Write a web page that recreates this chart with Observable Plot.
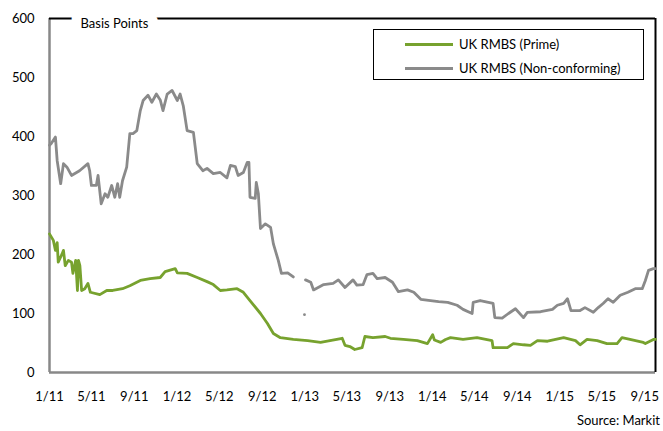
<!DOCTYPE html>
<html><head><meta charset="utf-8">
<script src="https://cdn.jsdelivr.net/npm/d3@7"></script>
<script src="https://cdn.jsdelivr.net/npm/@observablehq/plot@0.6"></script>
<style>
body{margin:0;background:#fff;font-family:Lato,"Open Sans",sans-serif;}
#wrap{position:relative;width:663px;height:431px;overflow:hidden;}
#legend{position:absolute;left:373px;top:29px;width:271px;height:51px;border:1px solid #000;box-sizing:border-box;font-size:13px;color:#000;background:#fff;}
.item{position:absolute;left:31px;height:16px;line-height:16px;white-space:nowrap;}
.item .sw{display:inline-block;width:48px;height:3px;vertical-align:middle;margin-right:6px;position:relative;top:-1px;}
#caption{position:absolute;right:3px;top:412px;font-size:13px;color:#000;}
</style></head>
<body>
<div id="wrap">
  <div id="chart"></div>
  <div id="legend"></div>
  <div id="caption"></div>
</div>
<script>
// ---- data ----
const seriesNames = ["UK RMBS (Prime)", "UK RMBS (Non-conforming)"];
const seriesColors = ["#77a22e", "#8a8a8a"];
const captionText = "Source: Markit";
const axisTitle = "Basis Points";

const primeDates = ["2011-01-01","2011-01-12","2011-01-18","2011-01-23","2011-01-26","2011-02-06","2011-02-10","2011-02-15","2011-02-24","2011-03-05","2011-03-09","2011-03-17","2011-03-22","2011-03-25","2011-03-29","2011-04-03","2011-04-12","2011-04-21","2011-04-28","2011-05-25","2011-06-14","2011-07-01","2011-07-29","2011-08-19","2011-09-18","2011-10-16","2011-11-14","2011-11-28","2011-12-27","2012-01-02","2012-01-30","2012-02-28","2012-03-27","2012-04-14","2012-05-04","2012-05-23","2012-06-21","2012-07-09","2012-07-28","2012-08-27","2012-09-16","2012-10-03","2012-10-23","2012-11-29","2013-01-09","2013-02-15","2013-03-14","2013-04-18","2013-04-26","2013-05-10","2013-05-24","2013-06-14","2013-06-22","2013-07-15","2013-08-19","2013-09-03","2013-10-10","2013-11-19","2013-12-18","2014-01-02","2014-01-07","2014-01-25","2014-02-08","2014-02-22","2014-03-30","2014-05-09","2014-06-21","2014-06-24","2014-08-04","2014-08-21","2014-09-19","2014-10-09","2014-10-29","2014-11-27","2015-01-12","2015-02-15","2015-02-28","2015-03-20","2015-04-18","2015-05-16","2015-06-14","2015-06-28","2015-07-21","2015-08-28","2015-09-03","2015-09-26","2015-10-02"];
const primeValues = [235,224,207,220,187,201,207,181,190,187,168,190,139,190,181,139,142,151,136,132,139,139,142,147,156,159,161,171,176,169,168,161,154,149,139,140,142,136,122,100,83,66,59,56,54,51,54,58,46,44,39,42,61,59,61,58,56,54,49,64,55,51,56,59,56,59,54,42,42,49,47,46,54,53,59,54,47,56,54,49,49,59,56,51,49,56,56];

const nonConfDates = ["2011-01-01","2011-01-06","2011-01-18","2011-01-23","2011-02-02","2011-02-10","2011-02-20","2011-03-05","2011-03-28","2011-04-21","2011-04-26","2011-05-01","2011-05-15","2011-05-20","2011-05-29","2011-06-09","2011-06-17","2011-06-28","2011-07-07","2011-07-15","2011-07-21","2011-07-29","2011-08-10","2011-08-19","2011-08-28","2011-09-08","2011-09-18","2011-09-26","2011-10-10","2011-10-21","2011-11-03","2011-11-14","2011-11-22","2011-12-04","2011-12-18","2012-01-02","2012-01-10","2012-01-19","2012-01-30","2012-02-17","2012-02-28","2012-03-15","2012-03-27","2012-04-14","2012-05-04","2012-05-23","2012-06-02","2012-06-16","2012-06-24","2012-07-09","2012-07-20","2012-07-25","2012-07-28","2012-08-12","2012-08-15","2012-08-21","2012-08-27","2012-09-10","2012-09-25","2012-10-03","2012-10-17","2012-10-26","2012-11-13","2012-11-29","2012-12-15","2013-01-03","2013-01-18","2013-01-26","2013-02-24","2013-03-23","2013-04-07","2013-04-26","2013-05-19","2013-05-30","2013-06-17","2013-06-28","2013-07-15","2013-07-27","2013-08-19","2013-09-09","2013-09-26","2013-10-22","2013-11-09","2013-11-29","2013-12-27","2014-01-19","2014-02-14","2014-03-13","2014-03-30","2014-04-25","2014-04-28","2014-05-18","2014-06-24","2014-06-29","2014-07-20","2014-08-07","2014-08-27","2014-09-19","2014-09-30","2014-11-07","2014-12-11","2014-12-25","2015-01-12","2015-01-23","2015-02-02","2015-02-28","2015-03-14","2015-04-07","2015-04-21","2015-05-05","2015-05-19","2015-06-03","2015-06-23","2015-07-15","2015-08-05","2015-08-25","2015-09-03","2015-09-12","2015-09-26","2015-10-02"];
const nonConfValues = [385,388,399,359,320,354,348,334,342,354,342,317,317,334,286,303,297,317,297,320,297,325,348,405,405,410,444,461,470,458,472,462,444,472,478,461,472,452,410,407,354,342,346,337,339,330,351,349,334,339,356,356,297,295,322,303,244,252,246,218,190,168,169,162,null,157,153,140,149,151,157,144,157,148,149,166,168,159,161,153,137,140,136,124,122,120,119,114,107,100,119,122,117,93,92,100,108,93,102,103,107,114,117,125,105,105,110,102,110,117,125,119,131,136,142,142,156,173,176,176];
const nonConfOutlierDates = ["2012-12-31"];
const nonConfOutlierValues = [98];

const xTickDates = ["2011-01-01","2011-05-01","2011-09-01","2012-01-01","2012-05-01","2012-09-01","2013-01-01","2013-05-01","2013-09-01","2014-01-01","2014-05-01","2014-09-01","2015-01-01","2015-05-01","2015-09-01"];
const xTickLabels = ["1/11","5/11","9/11","1/12","5/12","9/12","1/13","5/13","9/13","1/14","5/14","9/14","1/15","5/15","9/15"];
const yTicks = [0,100,200,300,400,500,600];
const xDomain = ["2011-01-01","2015-10-02"];

// ---- build ----
const parse = s => new Date(s + "T00:00:00Z");
const prime = primeDates.map((d,i)=>({date:parse(d), value:primeValues[i]}));
const nonConf = nonConfDates.map((d,i)=>({date:parse(d), value:nonConfValues[i]}));
const outlier = nonConfOutlierDates.map((d,i)=>({date:parse(d), value:nonConfOutlierValues[i]}));
const ticks = xTickDates.map(parse);
const dom = xDomain.map(parse);

const chart = Plot.plot({
  width: 663,
  height: 412,
  marginLeft: 49,
  marginRight: 8,
  marginTop: 18,
  marginBottom: 40,
  style: {fontFamily: "Lato, 'Open Sans', sans-serif", fontSize: "13px", color: "#000", background: "#fff"},
  x: {type: "utc", domain: dom},
  y: {domain: [0, 600]},
  marks: [
    Plot.axisY({ticks: yTicks, tickSize: 0, tickPadding: 15, label: null, fontSize: 13}),
    Plot.axisX({ticks: ticks, tickFormat: (d) => xTickLabels[ticks.findIndex(t => +t === +d)], tickSize: 0, tickPadding: 19, label: null, fontSize: 13}),
    Plot.ruleY([0], {stroke: "#888", strokeWidth: 2.5}),
    Plot.ruleX([dom[0]], {stroke: "#888", strokeWidth: 2.5}),
    Plot.ruleY([600], {stroke: "#000", strokeWidth: 2}),
    Plot.ruleX([dom[1]], {stroke: "#000", strokeWidth: 2}),
    Plot.text([axisTitle], {frameAnchor: "top-left", text: d => d, dx: 31, textAnchor: "start", fill: "#000", stroke: "#fff", strokeWidth: 20, paintOrder: "stroke", fontSize: 13}),
    Plot.line(nonConf, {x: "date", y: "value", stroke: seriesColors[1], strokeWidth: 2.8, curve: "linear"}),
    Plot.dot(outlier, {x: "date", y: "value", r: 1.4, fill: seriesColors[1]}),
    Plot.line(prime, {x: "date", y: "value", stroke: seriesColors[0], strokeWidth: 2.8, curve: "linear"})
  ]
});
document.getElementById("chart").appendChild(chart);

const legend = document.getElementById("legend");
seriesNames.forEach((name, i) => {
  const it = document.createElement("div");
  it.className = "item";
  it.style.top = (i === 0 ? 6 : 30) + "px";
  const sw = document.createElement("span");
  sw.className = "sw";
  sw.style.background = seriesColors[i];
  it.appendChild(sw);
  it.appendChild(document.createTextNode(name));
  legend.appendChild(it);
});
document.getElementById("caption").textContent = captionText;
</script>
</body></html>
